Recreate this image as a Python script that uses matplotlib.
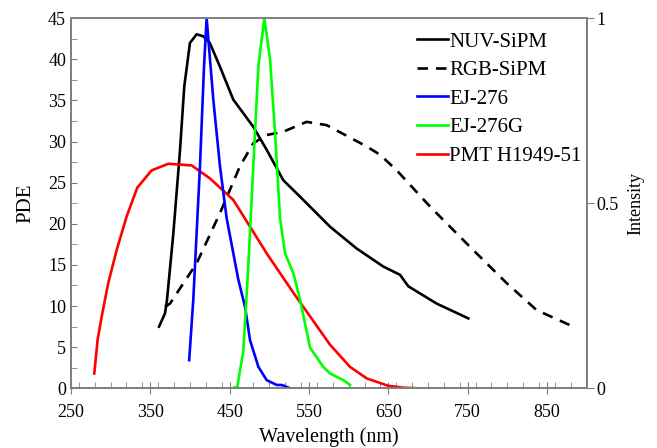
import matplotlib.pyplot as plt
from matplotlib.ticker import MultipleLocator, FixedLocator

plt.rcParams['font.family'] = ['Liberation Serif', 'DejaVu Serif']

# NUV-SiPM PDE (left axis)
nuv_wl = [361, 368.5, 371, 379, 387.4, 392.8, 400, 408.4, 416.8, 425, 437.8, 454.6,
          479.8, 496.7, 517.6, 538.7, 576.5, 610, 643.7, 664.7, 675.2, 710.9, 750.8]
nuv_pde = [7.5, 9.1, 10.7, 18.8, 28.9, 36.7, 42.0, 43.05, 42.8, 42.0, 39.1, 35.1,
           31.8, 29.0, 25.3, 23.3, 19.65, 17.0, 14.8, 13.8, 12.4, 10.3, 8.5]

# RGB-SiPM PDE (left axis)
rgb_wl = [368.5, 374.8, 408.4, 437.8, 463, 479.8, 496.7, 517.6, 547, 572.3,
          622.8, 639.5, 660.6, 702.5, 752.9, 799, 837, 883]
rgb_pde = [9.9, 10.3, 15.2, 21.3, 27.0, 29.8, 30.8, 31.2, 32.4, 32.0,
           29.4, 28.4, 26.5, 22.1, 17.2, 12.8, 9.5, 7.5]

# PMT H1949-51 (left axis)
pmt_wl = [279.4, 283.6, 288.7, 297, 307.6, 320.2, 333.6, 351.7, 372.7, 402.2, 425.4,
          454.6, 475.7, 496.7, 530.4, 576.5, 601.7, 622.8, 650, 669, 688]
pmt_pde = [1.8, 5.9, 8.7, 12.8, 16.8, 20.9, 24.4, 26.5, 27.3, 27.1, 25.5,
           22.9, 19.65, 16.4, 11.6, 5.3, 2.6, 1.2, 0.3, 0.07, 0.0]

# EJ-276 emission (right axis)
ej276_wl = [399, 404.2, 412.6, 417.7, 421, 429.4, 437.8, 446.2, 454.6, 461, 469.4,
            475.7, 486.2, 496.7, 509.3, 515.6, 526]
ej276_int = [0.076, 0.24, 0.6, 0.87, 1.0, 0.78, 0.6, 0.46, 0.365, 0.293, 0.22,
             0.13, 0.058, 0.022, 0.009, 0.009, 0.0]

# EJ-276G emission (right axis)
ej276g_wl = [453.3, 459.6, 467.2, 473.5, 479.8, 486.2, 493.7, 500.9, 507.2, 513.5,
             519.8, 530.4, 538.7, 551.3, 568, 576.5, 593.3, 601.7]
ej276g_int = [0.0, 0.004, 0.1, 0.33, 0.6, 0.87, 1.0, 0.89, 0.69, 0.46,
              0.365, 0.31, 0.24, 0.11, 0.058, 0.04, 0.022, 0.009]

fig = plt.figure(figsize=(6.57, 4.48), dpi=100)
ax = fig.add_axes([0.108, 0.1333, 0.785, 0.826])
ax2 = ax.twinx()

lw = 1.9
l1, = ax.plot(nuv_wl, nuv_pde, color='black', lw=lw, label='NUV-SiPM')
l2, = ax.plot(rgb_wl, rgb_pde, color='black', lw=lw, dashes=(4, 3), label='RGB-SiPM')
l3, = ax2.plot(ej276_wl, ej276_int, color='#0000ff', lw=lw, label='EJ-276')
l4, = ax2.plot(ej276g_wl, ej276g_int, color='#00ff00', lw=lw, label='EJ-276G')
l5, = ax.plot(pmt_wl, pmt_pde, color='#ff0000', lw=lw, label='PMT H1949-51')

ax.set_xlim(250, 900)
ax.set_ylim(0, 45)
ax2.set_ylim(0, 1)

fs = 13
ax.xaxis.set_major_locator(FixedLocator([250, 350, 450, 550, 650, 750, 850]))
ax.xaxis.set_minor_locator(MultipleLocator(20))
ax.yaxis.set_major_locator(MultipleLocator(5))
ax.yaxis.set_minor_locator(MultipleLocator(2.5))
ax2.yaxis.set_major_locator(FixedLocator([0, 0.5, 1]))
ax2.set_yticklabels(['0', '0.5', '1'])

gray = '#7f7f7f'
ax.tick_params(axis='x', which='major', direction='inout', length=8, color=gray, labelsize=fs, pad=7)
ax.tick_params(axis='x', which='minor', direction='in', length=4, color=gray)
ax.tick_params(axis='y', which='both', direction='in', length=4, color=gray, labelsize=fs)
ax2.tick_params(axis='y', direction='out', length=5, color=gray, labelsize=fs, pad=2)

for a in (ax, ax2):
    for s in a.spines.values():
        s.set_color(gray)
        s.set_linewidth(1.3)
ax.spines['top'].set_color('#a6a6a6')

ax.set_xlabel('Wavelength (nm)', fontsize=14.5, labelpad=5)
ax.set_ylabel('PDE', fontsize=15, labelpad=9)
ax2.set_ylabel('Intensity', fontsize=13, labelpad=6)

ax.legend(handles=[l1, l2, l3, l4, l5], loc='upper left', bbox_to_anchor=(0.655, 0.985),
          frameon=False, fontsize=15, handlelength=1.5, handletextpad=0.05,
          labelspacing=0.43, borderaxespad=0)

fig.savefig('out.png', dpi=100)
